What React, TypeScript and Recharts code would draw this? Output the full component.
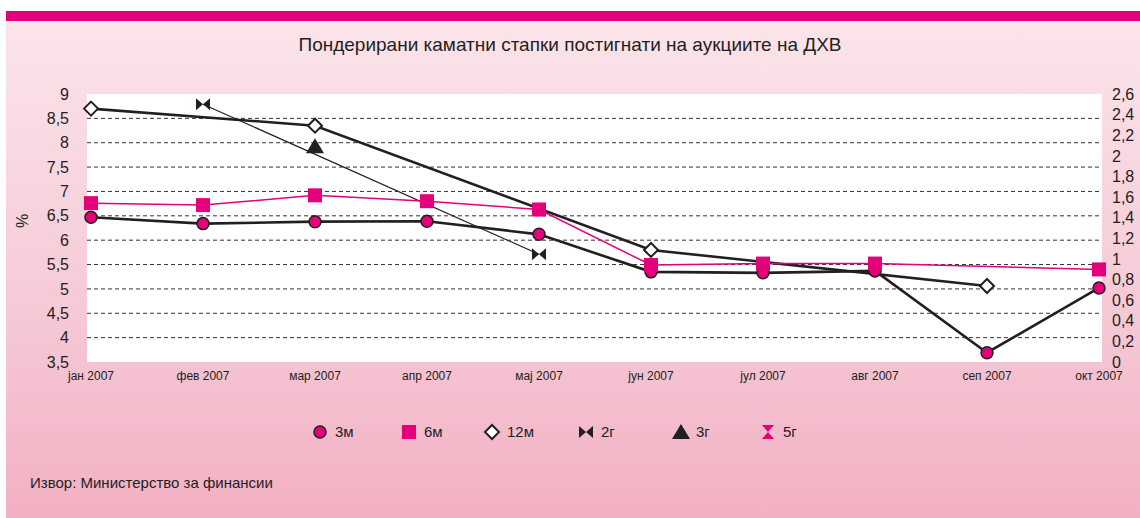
import { LineChart, Line, XAxis, YAxis, CartesianGrid, ReferenceLine } from 'recharts';

const months = ['јан 2007', 'фев 2007', 'мар 2007', 'апр 2007', 'мај 2007', 'јун 2007', 'јул 2007', 'авг 2007', 'сеп 2007', 'окт 2007'];
const m3 = [6.47, 6.34, 6.38, 6.39, 6.12, 5.35, 5.33, 5.37, 3.69, 5.02];
const m6 = [6.76, 6.72, 6.92, 6.8, 6.63, 5.49, 5.52, 5.52, null, 5.4];
const m12 = [8.7, null, 8.35, null, null, 5.8, null, null, 5.06, null];
const y2 = [null, 8.79, null, null, 5.71, null, null, null, null, null];
const y3 = [null, null, 7.93, null, null, null, null, null, null, null];
// 5г has no observations in this period (legend only)
const y5 = [null, null, null, null, null, null, null, null, null, null];

const leftTicks = [3.5, 4, 4.5, 5, 5.5, 6, 6.5, 7, 7.5, 8, 8.5, 9];
const rightTicks = [0, 0.2, 0.4, 0.6, 0.8, 1, 1.2, 1.4, 1.6, 1.8, 2, 2.2, 2.4, 2.6];
const gridValues = [4, 4.5, 5, 5.5, 6, 6.5, 7, 7.5, 8, 8.5];

const data = months.map((m, i) => ({ m, m3: m3[i], m6: m6[i], m12: m12[i], y2: y2[i], y3: y3[i], y5: y5[i] }));

const PINK = '#e3007a';
const INK = '#231f20';
const FONT = '"Liberation Sans Narrow", "Liberation Sans", Arial, sans-serif';

const fmt = (v: number) => String(v).replace('.', ',');

const Circle = ({ cx, cy }: any) => <circle cx={cx} cy={cy} r={6} fill={PINK} stroke={INK} strokeWidth={1.5} />;
const Square = ({ cx, cy }: any) => <rect x={cx - 7} y={cy - 7} width={14} height={14} fill={PINK} />;
const Diamond = ({ cx, cy }: any) => (
  <path d={`M${cx - 7},${cy} L${cx},${cy - 7} L${cx + 7},${cy} L${cx},${cy + 7} Z`} fill="#fff" stroke={INK} strokeWidth={2} />
);
const Bowtie = ({ cx, cy }: any) => (
  <path d={`M${cx - 7},${cy - 6} L${cx},${cy} L${cx - 7},${cy + 6} Z M${cx + 7},${cy - 6} L${cx},${cy} L${cx + 7},${cy + 6} Z`} fill={INK} />
);
const Triangle = ({ cx, cy }: any) => (
  <path d={`M${cx - 9},${cy + 7} L${cx},${cy - 8} L${cx + 9},${cy + 7} Z`} fill={INK} />
);
const Hourglass = ({ cx, cy }: any) => (
  <path d={`M${cx - 6},${cy - 7} L${cx + 6},${cy - 7} L${cx},${cy} Z M${cx - 6},${cy + 7} L${cx + 6},${cy + 7} L${cx},${cy} Z`} fill={PINK} />
);

const dotOf = (Shape: any) => (p: any) =>
  p.cx == null || p.cy == null || p.value == null ? <g key={p.key ?? p.index} /> : <Shape key={p.key ?? p.index} cx={p.cx} cy={p.cy} />;

const legendItems = [
  { label: '3м', Shape: Circle, x: 320 },
  { label: '6м', Shape: Square, x: 409 },
  { label: '12м', Shape: Diamond, x: 492 },
  { label: '2г', Shape: Bowtie, x: 586 },
  { label: '3г', Shape: Triangle, x: 681 },
  { label: '5г', Shape: Hourglass, x: 768 },
];

export default function App() {
  return (
    <div style={{ position: 'absolute', left: 0, top: 0, width: 1140, height: 518, background: '#fff', fontFamily: FONT }}>
      <div style={{ position: 'absolute', left: 6, top: 11, width: 1134, height: 10, background: PINK }} />
      <div style={{ position: 'absolute', left: 6, top: 21, width: 1134, height: 497, background: 'linear-gradient(#fbe4ea, #f6cbd7 55%, #f2b0c3)' }} />
      <div style={{ position: 'absolute', left: 0, top: 34, width: 1140, textAlign: 'center', fontSize: 19, color: INK }}>
        Пондерирани каматни стапки постигнати на аукциите на ДХВ
      </div>
      <div style={{ position: 'absolute', left: 16, top: 212, fontSize: 16, color: INK, transform: 'rotate(-90deg)' }}>%</div>
      <div style={{ position: 'absolute', left: 0, top: 0 }}>
        <LineChart width={1140} height={400} data={data} margin={{ top: 94, right: 8, left: 32, bottom: 0 }}>
          <CartesianGrid fill="#fff" horizontal={false} vertical={false} yAxisId="left" />
          <XAxis dataKey="m" axisLine={false} tickLine={false} tickSize={0} tickMargin={9} height={38} padding={{ left: 4, right: 3 }} interval={0}
            tick={{ fill: INK, fontSize: 12, fontFamily: FONT }} />
          <YAxis yAxisId="left" domain={[3.5, 9]} ticks={leftTicks} width={55} axisLine={false} tickLine={false} tickSize={0} tickMargin={18}
            tickFormatter={fmt} tick={{ fill: INK, fontSize: 16, fontFamily: FONT }} />
          <YAxis yAxisId="right" orientation="right" type="number" domain={[0, 2.6]} allowDataOverflow ticks={rightTicks} interval={0} width={30}
            axisLine={false} tickLine={false} tickSize={0} tickMargin={10}
            tickFormatter={fmt} tick={{ fill: INK, fontSize: 16, fontFamily: FONT, textAnchor: 'start' }} />
          {gridValues.map((v) => (
            <ReferenceLine key={v} yAxisId="left" y={v} stroke="#333" strokeWidth={1} strokeDasharray="4 3" />
          ))}
          <Line yAxisId="right" dataKey="y5" stroke="none" dot={false} activeDot={false} isAnimationActive={false} />
          <Line yAxisId="left" dataKey="y2" stroke={INK} strokeWidth={1.2} connectNulls dot={dotOf(Bowtie)} isAnimationActive={false} />
          <Line yAxisId="left" dataKey="m12" stroke={INK} strokeWidth={2.6} connectNulls dot={dotOf(Diamond)} isAnimationActive={false} />
          <Line yAxisId="left" dataKey="m3" stroke={INK} strokeWidth={2.6} dot={dotOf(Circle)} isAnimationActive={false} />
          <Line yAxisId="left" dataKey="m6" stroke={PINK} strokeWidth={1.5} connectNulls dot={dotOf(Square)} isAnimationActive={false} />
          <Line yAxisId="left" dataKey="y3" stroke="none" dot={dotOf(Triangle)} isAnimationActive={false} />
        </LineChart>
      </div>
      <svg style={{ position: 'absolute', left: 0, top: 416 }} width={1140} height={32}>
        {legendItems.map(({ label, Shape, x }) => (
          <g key={label}>
            <Shape cx={x} cy={16} />
            <text x={x + 15} y={21} fontSize={15} fill={INK} fontFamily={FONT}>{label}</text>
          </g>
        ))}
      </svg>
      <div style={{ position: 'absolute', left: 30, top: 474, fontSize: 15, color: INK }}>Извор: Министерство за финансии</div>
    </div>
  );
}
